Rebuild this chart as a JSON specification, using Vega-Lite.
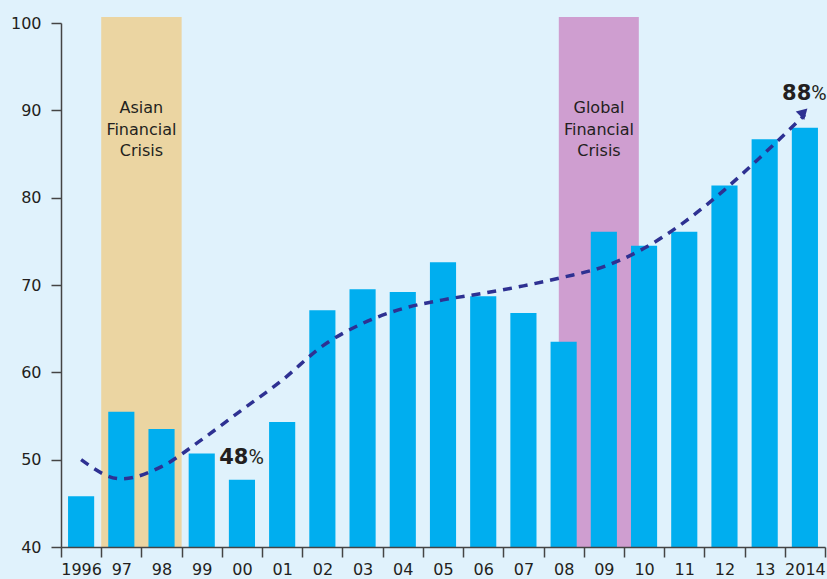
{
  "$schema": "https://vega.github.io/schema/vega-lite/v6.json",
  "width": 764,
  "height": 524,
  "autosize": {"type": "none"},
  "padding": {"left": 61, "top": 23, "right": 2, "bottom": 32},
  "background": "#E0F2FC",
  "config": {
    "view": {"stroke": null},
    "font": "DejaVu Sans",
    "axis": {
      "domainColor": "#444444",
      "domainWidth": 1.5,
      "tickColor": "#444444",
      "tickWidth": 1.5,
      "tickSize": 10,
      "labelColor": "#231F20",
      "labelFont": "DejaVu Sans",
      "labelFontSize": 16,
      "grid": false,
      "title": null
    }
  },
  "datasets": {
    "bars": [
      {"year": "1996", "value": 45.8},
      {"year": "97", "value": 55.5},
      {"year": "98", "value": 53.5},
      {"year": "99", "value": 50.7},
      {"year": "00", "value": 47.7},
      {"year": "01", "value": 54.3},
      {"year": "02", "value": 67.1},
      {"year": "03", "value": 69.5},
      {"year": "04", "value": 69.2},
      {"year": "05", "value": 72.6},
      {"year": "06", "value": 68.7},
      {"year": "07", "value": 66.8},
      {"year": "08", "value": 63.5},
      {"year": "09", "value": 76.1},
      {"year": "10", "value": 74.5},
      {"year": "11", "value": 76.1},
      {"year": "12", "value": 81.4},
      {"year": "13", "value": 86.7},
      {"year": "2014", "value": 88.0}
    ],
    "trend": [
      {"year": "1996", "value": 50.0},
      {"year": "97", "value": 47.8},
      {"year": "98", "value": 49.2},
      {"year": "99", "value": 52.3},
      {"year": "00", "value": 55.7},
      {"year": "01", "value": 59.1},
      {"year": "02", "value": 63.0},
      {"year": "03", "value": 65.6},
      {"year": "04", "value": 67.3},
      {"year": "05", "value": 68.3},
      {"year": "06", "value": 69.05},
      {"year": "07", "value": 69.9},
      {"year": "08", "value": 70.9},
      {"year": "09", "value": 72.1},
      {"year": "10", "value": 74.2},
      {"year": "11", "value": 77.2},
      {"year": "12", "value": 80.9},
      {"year": "13", "value": 85.1},
      {"year": "2014", "value": 89.5}
    ]
  },
  "encoding": {
    "x": {
      "field": "year",
      "type": "ordinal",
      "scale": {
        "domain": ["1996","97","98","99","00","01","02","03","04","05","06","07","08","09","10","11","12","13","2014"],
        "paddingInner": 0,
        "paddingOuter": 0
      },
      "axis": {"labelAngle": 0, "tickBand": "extent", "labelPadding": 4}
    }
  },
  "layer": [
    {
      "data": {"values": [{"start": "97", "end": "98", "lo": 40, "hi": 100.7}]},
      "mark": {"type": "rect", "color": "#EBD5A2", "clip": false},
      "encoding": {
        "x": {"field": "start", "type": "ordinal", "bandPosition": 0},
        "x2": {"field": "end", "bandPosition": 1},
        "y": {"field": "lo", "type": "quantitative"},
        "y2": {"field": "hi"}
      }
    },
    {
      "data": {"values": [{"start": "08", "end": "10", "lo": 40, "hi": 100.7}]},
      "mark": {"type": "rect", "color": "#CF9ED0", "clip": false},
      "encoding": {
        "x": {"field": "start", "type": "ordinal", "bandPosition": 0.38},
        "x2": {"field": "end", "bandPosition": 0.37},
        "y": {"field": "lo", "type": "quantitative"},
        "y2": {"field": "hi"}
      }
    },
    {
      "data": {"name": "bars"},
      "mark": {"type": "bar", "color": "#00AEEF", "width": {"band": 0.65}},
      "encoding": {
        "y": {
          "field": "value",
          "type": "quantitative",
          "scale": {"domain": [40, 100], "zero": false, "nice": false},
          "axis": {"values": [40,50,60,70,80,90,100], "labelPadding": 10}
        },
        "y2": {"datum": 40}
      }
    },
    {
      "data": {"name": "trend"},
      "mark": {"type": "line", "color": "#2E3192", "strokeWidth": 3.5, "strokeDash": [9, 7], "interpolate": "monotone"},
      "encoding": {
        "y": {"field": "value", "type": "quantitative"}
      }
    },
    {
      "data": {"values": [{"year": "2014", "value": 89.8}]},
      "mark": {"type": "point", "shape": "triangle-up", "filled": true, "size": 144, "angle": 45, "color": "#2E3192", "opacity": 1},
      "encoding": {
        "x": {"field": "year", "type": "ordinal", "bandPosition": 0.47},
        "y": {"field": "value", "type": "quantitative"}
      }
    },
    {
      "data": {"values": [
        {"year": "97", "value": 89.7, "label": "Asian\nFinancial\nCrisis"}
      ]},
      "mark": {"type": "text", "fontSize": 16, "color": "#231F20", "align": "center", "baseline": "alphabetic", "lineBreak": "\n", "lineHeight": 21.7},
      "encoding": {
        "x": {"field": "year", "type": "ordinal", "bandPosition": 1},
        "y": {"field": "value", "type": "quantitative"},
        "text": {"field": "label"}
      }
    },
    {
      "data": {"values": [
        {"year": "09", "value": 89.7, "label": "Global\nFinancial\nCrisis"}
      ]},
      "mark": {"type": "text", "fontSize": 16, "color": "#231F20", "align": "center", "baseline": "alphabetic", "lineBreak": "\n", "lineHeight": 21.7},
      "encoding": {
        "x": {"field": "year", "type": "ordinal", "bandPosition": 0.38},
        "y": {"field": "value", "type": "quantitative"},
        "text": {"field": "label"}
      }
    },
    {
      "data": {"values": [
        {"year": "00", "value": 49.5, "label": "48"},
        {"year": "2014", "value": 91.15, "label": "88"}
      ]},
      "mark": {"type": "text", "fontSize": 21, "fontWeight": "bold", "color": "#231F20", "align": "right", "baseline": "alphabetic"},
      "encoding": {
        "x": {"field": "year", "type": "ordinal", "bandPosition": 0.66},
        "y": {"field": "value", "type": "quantitative"},
        "text": {"field": "label"}
      }
    },
    {
      "data": {"values": [
        {"year": "00", "value": 49.5, "label": "%"},
        {"year": "2014", "value": 91.15, "label": "%"}
      ]},
      "mark": {"type": "text", "font": "Roboto", "fontSize": 21, "fontWeight": "normal", "color": "#231F20", "align": "left", "baseline": "alphabetic"},
      "encoding": {
        "x": {"field": "year", "type": "ordinal", "bandPosition": 0.66},
        "y": {"field": "value", "type": "quantitative"},
        "text": {"field": "label"}
      }
    }
  ]
}
